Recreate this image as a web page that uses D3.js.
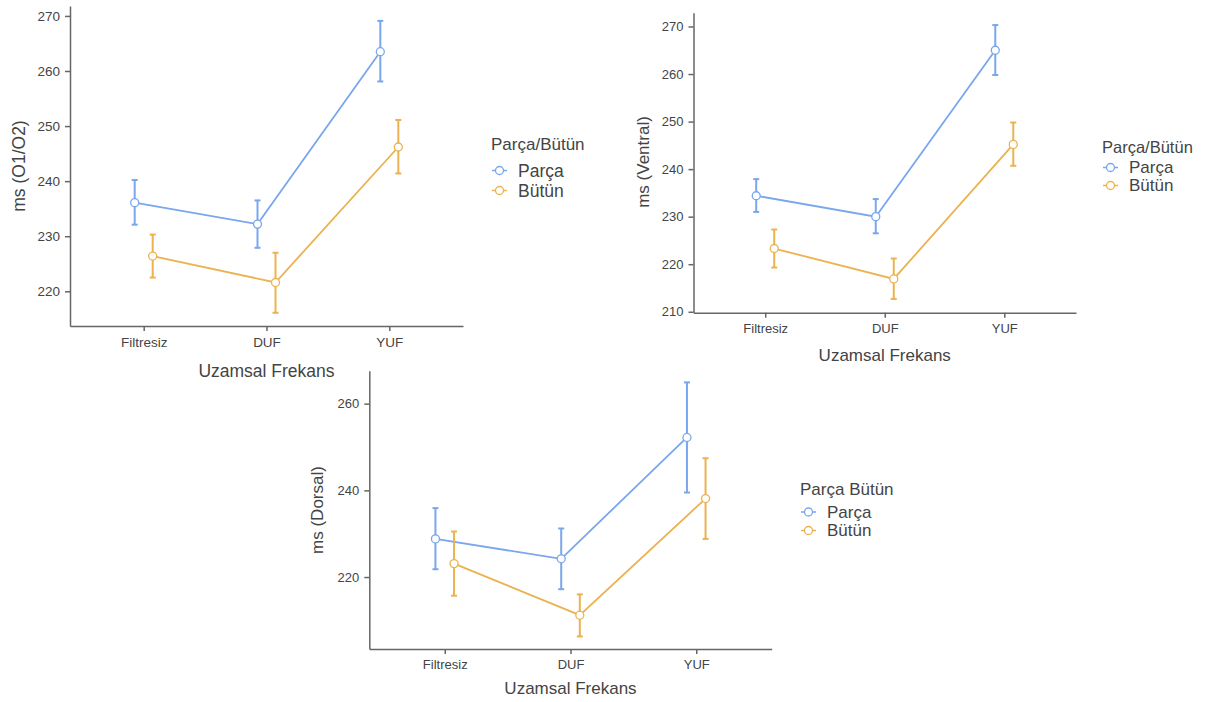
<!DOCTYPE html>
<html>
<head>
<meta charset="utf-8">
<script src="https://cdn.jsdelivr.net/npm/d3@7"></script>
<style>
  body { margin: 0; background: #fff; }
  svg { font-family: "Liberation Sans", Arial, sans-serif; }
  .axis path, .axis line { stroke: #666; stroke-width: 1.5px; }
  .axis text { fill: #444; }
  .title { fill: #444; }
</style>
</head>
<body>
<script>

// categories and groups
const categories = ["Filtresiz", "DUF", "YUF"];
const groups = ["Parça", "Bütün"];
const colors = ["#7aa6ee", "#ebb24f"];

// ms (O1/O2)
const parcaO1 = [236.1, 232.2, 263.5];
const parcaO1Lo = [232.1, 227.9, 258.1];
const parcaO1Hi = [240.2, 236.5, 269.1];
const butunO1 = [226.4, 221.6, 246.2];
const butunO1Lo = [222.5, 216.1, 241.4];
const butunO1Hi = [230.3, 227.0, 251.1];
const ticksO1 = [220, 230, 240, 250, 260, 270];

// ms (Ventral)
const parcaV = [234.4, 230.0, 265.0];
const parcaVLo = [231.0, 226.5, 259.8];
const parcaVHi = [237.9, 233.7, 270.3];
const butunV = [223.3, 216.9, 245.2];
const butunVLo = [219.3, 212.7, 240.7];
const butunVHi = [227.3, 221.2, 249.8];
const ticksV = [210, 220, 230, 240, 250, 260, 270];

// ms (Dorsal)
const parcaD = [228.8, 224.2, 252.2];
const parcaDLo = [221.8, 217.2, 239.5];
const parcaDHi = [235.9, 231.2, 264.9];
const butunD = [223.1, 211.2, 238.1];
const butunDLo = [215.7, 206.3, 228.8];
const butunDHi = [230.5, 216.0, 247.4];
const ticksD = [220, 240, 260];

var svg = d3.select("body").append("svg")
    .attr("width", 1206)
    .attr("height", 702);

function series(vals, lo, hi) {
  return categories.map((c, i) => ({cat: c, v: vals[i], lo: lo[i], hi: hi[i]}));
}

function drawPanel(p) {
  var g = svg.append("g");

  var x = d3.scalePoint().domain(categories).range([p.left, p.right]).padding(0.6);
  var y = d3.scaleLinear().domain(p.ydom).range([p.bottom, p.top]);

  // axes
  g.append("g").attr("class", "axis")
    .attr("transform", `translate(0,${p.bottom})`)
    .call(d3.axisBottom(x).tickSize(5).tickPadding(6).tickSizeOuter(0))
    .call(a => a.selectAll("text").style("font-size", p.tick + "px"));
  g.append("g").attr("class", "axis")
    .attr("transform", `translate(${p.left},0)`)
    .call(d3.axisLeft(y).tickValues(p.ticks).tickSize(5).tickPadding(5).tickSizeOuter(0))
    .call(a => a.selectAll("text").style("font-size", p.tick + "px"));

  // series
  p.data.forEach((s, k) => {
    var dx = k == 0 ? -p.dodge : p.dodge;
    var col = colors[k];
    var line = d3.line().x(d => x(d.cat) + dx).y(d => y(d.v));
    g.append("path").datum(s)
      .attr("d", line)
      .attr("fill", "none")
      .attr("stroke", col)
      .attr("stroke-width", 1.8);

    var eb = g.append("g").selectAll("g").data(s).enter().append("g")
      .attr("stroke", col).attr("stroke-width", 2);
    eb.append("line")
      .attr("x1", d => x(d.cat) + dx).attr("x2", d => x(d.cat) + dx)
      .attr("y1", d => y(d.lo)).attr("y2", d => y(d.hi));
    eb.append("line")
      .attr("x1", d => x(d.cat) + dx - 3).attr("x2", d => x(d.cat) + dx + 3)
      .attr("y1", d => y(d.lo)).attr("y2", d => y(d.lo));
    eb.append("line")
      .attr("x1", d => x(d.cat) + dx - 3).attr("x2", d => x(d.cat) + dx + 3)
      .attr("y1", d => y(d.hi)).attr("y2", d => y(d.hi));

    g.append("g").selectAll("circle").data(s).enter().append("circle")
      .attr("cx", d => x(d.cat) + dx)
      .attr("cy", d => y(d.v))
      .attr("r", 4)
      .attr("fill", "#fff")
      .attr("stroke", col)
      .attr("stroke-width", 1.3);
  });

  // axis titles
  g.append("text").attr("class", "title")
    .attr("transform", `translate(${p.ytitle[0]},${p.ytitle[1]}) rotate(-90)`)
    .attr("text-anchor", "middle").attr("dy", "0.35em")
    .style("font-size", p.title + "px")
    .text(p.ylabel);
  g.append("text").attr("class", "title")
    .attr("x", (p.left + p.right) / 2).attr("y", p.xtitleY)
    .attr("text-anchor", "middle").attr("dy", "0.35em")
    .style("font-size", p.title + "px")
    .text("Uzamsal Frekans");

  // legend
  var lg = g.append("g").attr("transform", `translate(${p.legend[0]},${p.legend[1]})`);
  lg.append("text").attr("class", "title")
    .attr("x", 0).attr("y", 0).attr("dy", "0.35em")
    .style("font-size", p.legTitle + "px")
    .text(p.legendTitle);
  groups.forEach((name, k) => {
    var yy = p.legGap0 + k * p.legGap;
    lg.append("line").attr("x1", 1).attr("x2", 16).attr("y1", yy).attr("y2", yy)
      .attr("stroke", colors[k]).attr("stroke-width", 1.5);
    lg.append("circle").attr("cx", 8.5).attr("cy", yy).attr("r", 4)
      .attr("fill", "#fff").attr("stroke", colors[k]).attr("stroke-width", 1.3);
    lg.append("text").attr("class", "title")
      .attr("x", 27).attr("y", yy).attr("dy", "0.35em")
      .style("font-size", p.legItem + "px")
      .text(name);
  });
}

drawPanel({
  left: 70, right: 463, top: 6, bottom: 326, ydom: [213.7, 271.8], ticks: ticksO1,
  data: [series(parcaO1, parcaO1Lo, parcaO1Hi), series(butunO1, butunO1Lo, butunO1Hi)],
  dodge: 9, tick: 13.5, title: 17.5, ylabel: "ms (O1/O2)", ytitle: [19, 166], xtitleY: 371,
  legend: [491, 144], legendTitle: "Parça/Bütün", legTitle: 17, legItem: 17.5, legGap0: 26.5, legGap: 20
});

drawPanel({
  left: 693.5, right: 1076, top: 12.7, bottom: 312.7, ydom: [209.8, 272.9], ticks: ticksV,
  data: [series(parcaV, parcaVLo, parcaVHi), series(butunV, butunVLo, butunVHi)],
  dodge: 9, tick: 13, title: 17, ylabel: "ms (Ventral)", ytitle: [643, 162], xtitleY: 355,
  legend: [1102, 147], legendTitle: "Parça/Bütün", legTitle: 16.5, legItem: 17, legGap0: 20.5, legGap: 18
});

drawPanel({
  left: 369.3, right: 771.7, top: 370.7, bottom: 649, ydom: [203.4, 267.6], ticks: ticksD,
  data: [series(parcaD, parcaDLo, parcaDHi), series(butunD, butunDLo, butunDHi)],
  dodge: 9.3, tick: 13, title: 17, ylabel: "ms (Dorsal)", ytitle: [317, 510], xtitleY: 688,
  legend: [800, 489], legendTitle: "Parça Bütün", legTitle: 17, legItem: 17, legGap0: 23, legGap: 18.5
});

</script>
</body>
</html>
